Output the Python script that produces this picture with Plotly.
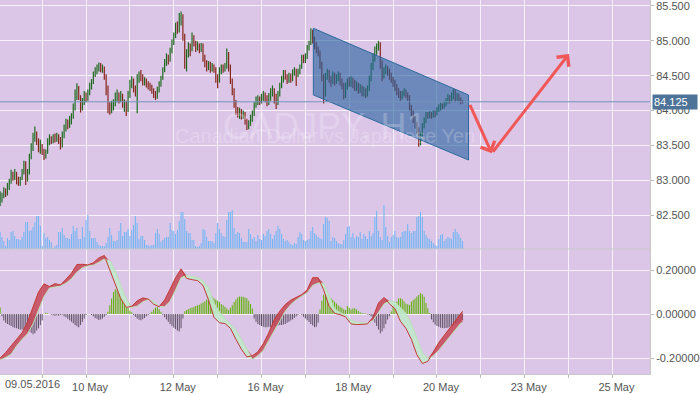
import plotly.graph_objects as go

# ---------------- axis labels ----------------
day_ticks = list(range(0, 14))
day_labels = ["", "10 May", "", "12 May", "", "16 May", "", "18 May", "", "20 May", "", "23 May", "", "25 May"]
first_day_label = "09.05.2016"
price_ticks = [82.5, 83.0, 83.5, 84.0, 84.5, 85.0, 85.5]
price_labels = ["82.500", "83.000", "83.500", "84.000", "84.500", "85.000", "85.500"]
macd_ticks = [-0.2, 0.0, 0.2]
macd_labels = ["-0.20000", "0.00000", "0.20000"]
title_text = "CADJPY, H1"
subtitle_text = "Canadian Dollar vs Japanese Yen"
last_price = 84.125

BARS_BEFORE_FIRST_DAY = 23
BARS_PER_DAY = 24
first_open = 82.66

# ---------------- H1 price bars (one line per trading day) ----------------
bar_close = [
    82.70, 82.78, 82.85, 82.80, 82.90, 82.98, 83.08, 83.05, 83.12, 83.00, 82.96, 83.02, 83.12, 83.25, 83.00, 83.10, 83.32, 83.45, 83.62, 83.72, 83.55, 83.48, 83.52,
    83.42, 83.35, 83.40, 83.55, 83.60, 83.56, 83.62, 83.58, 83.63, 83.57, 83.48, 83.65, 83.75, 83.82, 83.78, 83.86, 83.92, 84.05, 84.22, 84.32, 84.20, 84.05, 84.12, 84.22,
    84.16, 84.26, 84.34, 84.40, 84.52, 84.58, 84.62, 84.66, 84.60, 84.62, 84.50, 84.32, 84.05, 84.00, 84.08, 84.12, 84.20, 84.24, 84.16, 84.22, 84.08, 84.12, 83.99, 84.22,
    84.38, 84.45, 84.32, 84.28, 84.46, 84.52, 84.48, 84.40, 84.44, 84.38, 84.36, 84.33, 84.30, 84.24, 84.20, 84.30, 84.38, 84.46, 84.58, 84.70, 84.78, 84.72, 84.86, 84.98,
    85.08, 85.22, 85.16, 85.32, 85.36, 85.08, 84.72, 84.82, 84.92, 84.88, 85.05, 84.98, 84.90, 84.94, 84.88, 84.92, 84.76, 84.68, 84.62, 84.66, 84.60, 84.64, 84.58, 84.45,
    84.42, 84.58, 84.62, 84.60, 84.65, 84.82, 84.62, 84.45, 84.30, 84.12, 84.02, 83.95, 84.00, 83.92, 83.96, 83.84, 83.76, 83.82, 83.90, 83.96, 84.08, 84.15, 84.18, 84.14,
    84.20, 84.24, 84.18, 84.12, 84.20, 84.28, 84.30, 84.20, 84.12, 84.24, 84.36, 84.46, 84.54, 84.48, 84.44, 84.50, 84.45, 84.55, 84.58, 84.52, 84.56, 84.62, 84.76, 84.72,
    84.78, 84.90, 84.96, 85.14, 85.02, 84.95, 84.88, 84.84, 84.66, 84.50, 84.25, 84.48, 84.55, 84.46, 84.40, 84.50, 84.42, 84.47, 84.52, 84.42, 84.36, 84.22, 84.36, 84.42,
    84.38, 84.44, 84.40, 84.34, 84.38, 84.30, 84.34, 84.26, 84.30, 84.24, 84.30, 84.45, 84.62, 84.76, 84.88, 84.92, 84.96, 84.70, 84.50, 84.58, 84.62, 84.55, 84.50, 84.46,
    84.40, 84.34, 84.28, 84.24, 84.20, 84.24, 84.28, 84.24, 84.20, 84.05, 83.98, 83.88, 83.80, 83.72, 83.58, 83.66, 83.78, 83.86, 83.94, 83.92, 83.96, 83.93, 83.97, 83.95,
    84.02, 84.05, 84.08, 84.06, 84.10, 84.14, 84.20, 84.15, 84.22, 84.27, 84.18, 84.22, 84.16, 84.13, 84.125,
]
bar_high = [
    82.84, 82.82, 82.90, 82.88, 82.96, 83.02, 83.15, 83.12, 83.16, 83.12, 83.05, 83.05, 83.16, 83.28, 83.27, 83.16, 83.38, 83.53, 83.68, 83.77, 83.70, 83.60, 83.58,
    83.52, 83.45, 83.44, 83.60, 83.66, 83.63, 83.66, 83.67, 83.68, 83.66, 83.62, 83.70, 83.80, 83.88, 83.87, 83.92, 83.96, 84.10, 84.30, 84.39, 84.35, 84.22, 84.18, 84.28,
    84.26, 84.30, 84.40, 84.45, 84.56, 84.62, 84.66, 84.69, 84.68, 84.66, 84.63, 84.52, 84.36, 84.12, 84.14, 84.16, 84.26, 84.30, 84.26, 84.28, 84.24, 84.16, 84.14, 84.28,
    84.44, 84.49, 84.46, 84.36, 84.52, 84.56, 84.58, 84.52, 84.48, 84.46, 84.42, 84.40, 84.37, 84.32, 84.28, 84.34, 84.42, 84.50, 84.62, 84.74, 84.82, 84.80, 84.90, 85.02,
    85.12, 85.26, 85.28, 85.40, 85.42, 85.38, 85.10, 84.88, 84.98, 84.96, 85.12, 85.08, 85.00, 84.99, 84.96, 84.97, 84.96, 84.80, 84.72, 84.71, 84.70, 84.68, 84.66, 84.62,
    84.52, 84.62, 84.66, 84.66, 84.68, 84.89, 84.84, 84.66, 84.46, 84.32, 84.15, 84.05, 84.04, 84.02, 84.00, 83.98, 83.88, 83.86, 83.94, 84.00, 84.12, 84.20, 84.22, 84.20,
    84.24, 84.28, 84.26, 84.22, 84.25, 84.32, 84.36, 84.32, 84.24, 84.28, 84.40, 84.50, 84.58, 84.58, 84.52, 84.54, 84.53, 84.59, 84.62, 84.60, 84.60, 84.66, 84.80, 84.80,
    84.82, 84.94, 85.00, 85.18, 85.16, 85.06, 84.98, 84.92, 84.86, 84.70, 84.52, 84.54, 84.60, 84.58, 84.50, 84.56, 84.54, 84.52, 84.56, 84.54, 84.46, 84.40, 84.40, 84.46,
    84.48, 84.49, 84.47, 84.44, 84.42, 84.40, 84.38, 84.36, 84.34, 84.32, 84.36, 84.50, 84.68, 84.82, 84.92, 84.96, 85.00, 84.98, 84.72, 84.62, 84.66, 84.64, 84.60, 84.54,
    84.48, 84.44, 84.38, 84.32, 84.28, 84.28, 84.32, 84.30, 84.26, 84.22, 84.08, 84.00, 83.92, 83.84, 83.76, 83.70, 83.82, 83.90, 83.98, 83.98, 83.99, 83.98, 84.00, 84.00,
    84.05, 84.09, 84.11, 84.10, 84.13, 84.18, 84.24, 84.22, 84.26, 84.31, 84.30, 84.25, 84.24, 84.19, 84.15,
]
bar_low = [
    82.63, 82.68, 82.74, 82.76, 82.78, 82.86, 82.95, 82.99, 83.00, 82.94, 82.92, 82.92, 83.00, 83.08, 82.93, 82.98, 83.08, 83.30, 83.42, 83.55, 83.50, 83.40, 83.38,
    83.36, 83.29, 83.31, 83.38, 83.50, 83.52, 83.53, 83.54, 83.55, 83.52, 83.44, 83.47, 83.60, 83.70, 83.73, 83.75, 83.80, 83.88, 84.00, 84.15, 84.15, 83.97, 84.00, 84.08,
    84.12, 84.14, 84.22, 84.30, 84.38, 84.48, 84.52, 84.56, 84.55, 84.54, 84.44, 84.22, 83.96, 83.94, 83.96, 84.00, 84.06, 84.12, 84.10, 84.12, 84.04, 83.98, 83.92, 83.98,
    84.18, 84.32, 84.26, 84.20, 83.96, 84.40, 84.42, 84.36, 84.36, 84.33, 84.30, 84.28, 84.24, 84.18, 84.15, 84.17, 84.26, 84.34, 84.44, 84.55, 84.64, 84.66, 84.70, 84.82,
    84.94, 85.04, 85.10, 85.12, 85.22, 85.00, 84.60, 84.56, 84.76, 84.78, 84.85, 84.92, 84.84, 84.86, 84.82, 84.84, 84.70, 84.62, 84.56, 84.58, 84.54, 84.56, 84.54, 84.40,
    84.32, 84.40, 84.52, 84.54, 84.56, 84.60, 84.56, 84.38, 84.22, 84.04, 83.94, 83.90, 83.88, 83.87, 83.88, 83.80, 83.72, 83.73, 83.78, 83.84, 83.92, 84.04, 84.08, 84.08,
    84.10, 84.14, 84.12, 84.06, 84.08, 84.14, 84.20, 84.10, 84.02, 84.08, 84.20, 84.32, 84.40, 84.44, 84.38, 84.40, 84.40, 84.42, 84.50, 84.35, 84.48, 84.52, 84.60, 84.68,
    84.68, 84.74, 84.86, 84.94, 84.96, 84.88, 84.82, 84.78, 84.60, 84.42, 84.10, 84.20, 84.44, 84.40, 84.34, 84.38, 84.36, 84.38, 84.42, 84.36, 84.30, 84.16, 84.18, 84.30,
    84.34, 84.34, 84.32, 84.28, 84.28, 84.24, 84.25, 84.20, 84.20, 84.18, 84.20, 84.28, 84.42, 84.58, 84.70, 84.80, 84.86, 84.60, 84.42, 84.46, 84.52, 84.50, 84.44, 84.40,
    84.34, 84.28, 84.22, 84.18, 84.14, 84.16, 84.20, 84.18, 84.14, 84.00, 83.92, 83.82, 83.74, 83.66, 83.48, 83.50, 83.62, 83.74, 83.82, 83.88, 83.89, 83.88, 83.90, 83.90,
    83.93, 83.98, 84.00, 84.02, 84.03, 84.06, 84.10, 84.10, 84.12, 84.16, 84.12, 84.14, 84.12, 84.09, 84.10,
]
tick_volume = [
    1700, 1200, 800, 300, 1100, 900, 1700, 1800, 1300, 1000, 1000, 900, 1200, 1700, 2700, 2700, 1800, 1900, 2200, 2700, 3300, 3300, 2300,
    300, 1600, 1100, 1200, 900, 700, 100, 300, 400, 1700, 1700, 2100, 1400, 1100, 1100, 1000, 1500, 2300, 1800, 2100, 1000, 1000, 2200, 1200,
    2900, 3400, 1800, 1100, 1100, 1100, 700, 400, 300, 300, 300, 600, 1200, 2100, 1400, 800, 800, 900, 1800, 2600, 1300, 1700, 1700, 2000,
    1300, 1900, 2400, 3300, 2600, 1000, 1300, 1300, 900, 400, 400, 300, 400, 400, 1600, 2000, 1500, 700, 900, 1100, 1200, 1200, 2600, 1900,
    1800, 1500, 1900, 2800, 3700, 3700, 3000, 1800, 1600, 1600, 900, 900, 300, 200, 300, 600, 2000, 1900, 1200, 800, 800, 800, 600, 1600,
    2600, 2000, 1600, 1300, 1200, 2900, 3700, 3700, 3900, 2100, 1500, 1700, 1600, 1100, 700, 700, 700, 2000, 1500, 1000, 1200, 800, 1400, 1000,
    900, 1500, 1300, 1800, 2000, 1500, 1000, 1400, 1800, 2300, 2000, 1500, 1000, 800, 900, 700, 500, 400, 600, 500, 1200, 1700, 1500, 900,
    800, 900, 1000, 1800, 2200, 1600, 1400, 1200, 1100, 1000, 2500, 3200, 3100, 2800, 800, 1200, 1100, 800, 600, 500, 500, 900, 1500, 2200,
    2300, 1200, 1600, 1100, 1300, 1200, 1700, 1000, 1500, 1300, 1000, 1800, 1300, 1600, 3200, 3800, 1800, 1200, 900, 4400, 2200, 1300, 700, 1200,
    1400, 1800, 1200, 1100, 1200, 1700, 1800, 1800, 2500, 1800, 1600, 1800, 1800, 3200, 3300, 3700, 3200, 1800, 1400, 1100, 1000, 800, 600, 400,
    300, 1000, 1400, 1500, 800, 1000, 1200, 1100, 1000, 1700, 2000, 1700, 1500, 1100, 800,
]
macd_hist = [
    0.03, -0.01, -0.03, -0.04, -0.045, -0.05, -0.055, -0.06, -0.062, -0.065, -0.068, -0.07, -0.07, -0.072, -0.075, -0.078, -0.08, -0.085, -0.092, -0.088, -0.075, -0.065, -0.05,
    -0.03, 0.0, 0.006, 0.002, 0.0, -0.003, -0.006, -0.008, -0.006, -0.008, -0.005, -0.003, -0.01, -0.015, -0.022, -0.028, -0.035, -0.042, -0.05, -0.056, -0.06, -0.05, -0.035, -0.02,
    -0.005, 0.0, 0.0, -0.004, -0.01, -0.018, -0.022, -0.027, -0.025, -0.02, -0.012, -0.004, 0.01, 0.04, 0.07, 0.1, 0.112, 0.108, 0.095, 0.085, 0.072, 0.058, 0.042, 0.028,
    0.015, 0.008, -0.005, -0.012, -0.02, -0.026, -0.028, -0.024, -0.018, -0.01, -0.004, 0.003, 0.01, 0.02, 0.03, 0.032, 0.022, 0.01, -0.005, -0.015, -0.025, -0.035, -0.045, -0.055,
    -0.062, -0.068, -0.075, -0.08, -0.065, -0.02, 0.012, 0.018, 0.022, 0.026, 0.028, 0.032, 0.036, 0.04, 0.042, 0.048, 0.052, 0.058, 0.066, 0.075, 0.08, 0.078, 0.072, 0.065,
    0.06, 0.055, 0.046, 0.04, 0.033, 0.025, 0.018, 0.028, 0.04, 0.055, 0.066, 0.075, 0.08, 0.078, 0.078, 0.075, 0.072, 0.06, 0.045, 0.025, -0.02, -0.035, -0.045, -0.05,
    -0.055, -0.058, -0.06, -0.06, -0.058, -0.06, -0.058, -0.055, -0.055, -0.052, -0.05, -0.05, -0.048, -0.045, -0.04, -0.035, -0.03, -0.025, -0.018, -0.01, -0.004, 0.0, -0.005, -0.012,
    -0.02, -0.028, -0.036, -0.045, -0.052, -0.06, -0.058, -0.04, 0.02, 0.06, 0.088, 0.094, 0.088, 0.08, 0.072, 0.064, 0.056, 0.048, 0.04, 0.033, 0.028, 0.022, 0.018, 0.036,
    0.028, 0.021, 0.025, 0.026, 0.02, 0.014, 0.008, 0.004, 0.003, 0.002, -0.002, -0.004, -0.01, -0.025, -0.04, -0.055, -0.07, -0.088, -0.08, -0.065, -0.045, -0.025, -0.01, 0.012,
    0.033, 0.045, 0.056, 0.071, 0.072, 0.067, 0.058, 0.048, 0.044, 0.041, 0.056, 0.064, 0.071, 0.08, 0.086, 0.094, 0.09, 0.079, 0.05, 0.026, 0.005, -0.025, -0.038, -0.048,
    -0.055, -0.058, -0.062, -0.064, -0.065, -0.064, -0.062, -0.058, -0.055, -0.05, -0.046, -0.042, -0.038, -0.032, -0.027,
]

# MACD lines, read every 3 bars (bar index listed)
macd_bar_index = list(range(0, 253, 3)) + [253]
macd_main = [
    -0.200, -0.175, -0.145, -0.115, -0.085, -0.035, 0.03, 0.10, 0.137, 0.125, 0.138, 0.132, 0.158, 0.185, 0.225, 0.226, 0.223, 0.233, 0.255, 0.266,
    0.20, 0.135, 0.07, 0.03, 0.035, 0.06, 0.073, 0.068, 0.045, 0.033, 0.064, 0.113, 0.165, 0.205, 0.162, 0.156, 0.152, 0.13, 0.065, -0.015,
    -0.04, -0.043, -0.065, -0.115, -0.16, -0.195, -0.19, -0.172, -0.135, -0.085, -0.025, 0.013, 0.043, 0.063, 0.076, 0.088, 0.11, 0.165, 0.165, 0.11,
    0.035, 0.003, -0.003, -0.013, -0.045, -0.048, -0.047, -0.045, -0.015, 0.05, 0.075, 0.046, 0.025, -0.033, -0.065, -0.115, -0.185, -0.225, -0.215, -0.172,
    -0.13, -0.097, -0.063, -0.03, 0.005, 0.012,
]
macd_signal = [
    -0.209, -0.198, -0.183, -0.145, -0.115, -0.09, -0.045, 0.02, 0.08, 0.118, 0.122, 0.127, 0.14, 0.16, 0.19, 0.21, 0.219, 0.222, 0.235, 0.25,
    0.242, 0.195, 0.13, 0.07, 0.03, 0.036, 0.055, 0.066, 0.058, 0.035, 0.033, 0.058, 0.11, 0.165, 0.175, 0.172, 0.165, 0.15, 0.12, 0.05,
    0.011, -0.022, -0.045, -0.072, -0.115, -0.16, -0.206, -0.19, -0.165, -0.12, -0.073, -0.032, 0.013, 0.043, 0.065, 0.08, 0.097, 0.13, 0.141, 0.14,
    0.08, 0.025, 0.006, -0.004, -0.028, -0.037, -0.039, -0.041, -0.03, 0.008, 0.045, 0.06, 0.055, 0.03, 0.003, -0.045, -0.115, -0.175, -0.202, -0.19,
    -0.165, -0.135, -0.1, -0.07, -0.042, -0.037,
]

# drawn objects (day units, price units)
channel_days = [6.182, 9.72]
channel_upper = [85.18, 84.223]
channel_lower = [84.223, 83.289]
arrow_days = [9.736, 10.25, 12.009]
arrow_prices = [84.103, 83.386, 84.811]

# ---------------- build ----------------
FONT = "Liberation Sans, Arial, sans-serif"
BG = "#dcc6e8"
GRID = "#f6f2f8"
LABEL = "#555555"

def day_of(i):
    return (i - BARS_BEFORE_FIRST_DAY) / BARS_PER_DAY

bar_x = [day_of(i) for i in range(len(bar_close))]
bar_open = [first_open] + bar_close[:-1]
macd_x = [day_of(i) for i in macd_bar_index]
upper_part = [max(m, s) for m, s in zip(macd_main, macd_signal)]
lower_part = [min(m, s) for m, s in zip(macd_main, macd_signal)]

thin_bar = 1.02 / 44  # about one pixel wide, in day units

fig = go.Figure()

fig.add_trace(go.Bar(x=bar_x, y=tick_volume, yaxis="y3", width=thin_bar,
                     marker=dict(color="rgba(108,180,244,0.99)", line=dict(width=0)), hoverinfo="skip"))
fig.add_trace(go.Ohlc(x=bar_x, open=bar_open, high=bar_high, low=bar_low, close=bar_close,
                      tickwidth=0, yaxis="y",
                      increasing=dict(line=dict(color="#1e6b1e", width=1.2)),
                      decreasing=dict(line=dict(color="#86261a", width=1.2)),
                      hoverinfo="skip"))
fig.add_trace(go.Bar(x=bar_x, y=macd_hist, yaxis="y2", width=thin_bar,
                     marker=dict(color=["rgba(93,176,0,0.99)" if v >= 0 else "rgba(96,82,102,0.99)" for v in macd_hist],
                                 line=dict(width=0)),
                     hoverinfo="skip"))
# red band where main above signal
fig.add_trace(go.Scatter(x=macd_x, y=macd_signal, yaxis="y2", mode="lines", line=dict(width=0), hoverinfo="skip"))
fig.add_trace(go.Scatter(x=macd_x, y=upper_part, yaxis="y2", mode="lines", line=dict(width=0),
                         fill="tonexty", fillcolor="rgba(196,70,86,0.85)", hoverinfo="skip"))
# green band where signal above main
fig.add_trace(go.Scatter(x=macd_x, y=macd_signal, yaxis="y2", mode="lines", line=dict(width=0), hoverinfo="skip"))
fig.add_trace(go.Scatter(x=macd_x, y=lower_part, yaxis="y2", mode="lines", line=dict(width=0),
                         fill="tonexty", fillcolor="rgba(192,232,204,0.9)", hoverinfo="skip"))
fig.add_trace(go.Scatter(x=macd_x, y=macd_signal, yaxis="y2", mode="lines",
                         line=dict(color="#b9e2b4", width=1), hoverinfo="skip"))
fig.add_trace(go.Scatter(x=macd_x, y=macd_main, yaxis="y2", mode="lines",
                         line=dict(color="#c23a34", width=1), hoverinfo="skip"))

split = 125 / 374

shapes = [
    dict(type="path", xref="x", yref="y", layer="above",
         path=f"M {channel_days[0]},{channel_upper[0]} L {channel_days[1]},{channel_upper[1]} "
              f"L {channel_days[1]},{channel_lower[1]} L {channel_days[0]},{channel_lower[0]} Z",
         fillcolor="rgba(40,100,160,0.62)", line=dict(color="#2c6a9c", width=1)),
    dict(type="line", xref="paper", yref="y", x0=0, x1=1, y0=last_price, y1=last_price,
         layer="above", line=dict(color="#7394bb", width=1)),
    dict(type="line", xref="paper", yref="paper", x0=0, x1=1, y0=split, y1=split,
         line=dict(color="#c8c8c8", width=1)),
]

annotations = [
    dict(text=title_text, xref="paper", yref="paper", x=325 / 652, y=1 - 104 / 374,
         showarrow=False, font=dict(family=FONT, size=36, color="rgba(255,255,255,0.22)")),
    dict(text=subtitle_text, xref="paper", yref="paper", x=326 / 652, y=1 - 136 / 374,
         showarrow=False, font=dict(family=FONT, size=20, color="rgba(255,255,255,0.22)")),
    dict(text="", x=arrow_days[1], y=arrow_prices[1], ax=arrow_days[0], ay=arrow_prices[0],
         xref="x", yref="y", axref="x", ayref="y", showarrow=True, arrowhead=4,
         arrowsize=1, arrowwidth=3, arrowcolor="#f05858"),
    dict(text="", x=arrow_days[2], y=arrow_prices[2], ax=arrow_days[1], ay=arrow_prices[1],
         xref="x", yref="y", axref="x", ayref="y", showarrow=True, arrowhead=4,
         arrowsize=1, arrowwidth=3, arrowcolor="#f05858"),
    dict(text=f"{last_price:.3f}", xref="paper", yref="y", x=1, y=last_price, xanchor="left",
         yanchor="middle", xshift=2, showarrow=False, bgcolor="#4d7399", width=42, height=12,
         borderpad=1, align="left", font=dict(family=FONT, size=11, color="white")),
    dict(text=first_day_label, xref="paper", yref="paper", x=2.7 / 652, y=-10 / 374,
         xanchor="left", yanchor="middle", showarrow=False,
         font=dict(family=FONT, size=11, color=LABEL)),
]

fig.update_layout(
    width=700, height=394, margin=dict(l=0, r=48, t=0, b=20),
    paper_bgcolor="white", plot_bgcolor=BG, showlegend=False, hovermode=False,
    barmode="overlay", font=dict(family=FONT, size=11, color=LABEL),
    shapes=shapes, annotations=annotations,
    xaxis=dict(range=[-42.3 / 44, (652 - 42.3) / 44], anchor="y2", tickmode="array",
               tickvals=day_ticks, ticktext=day_labels, ticklabelshift=4,
               showgrid=True, gridcolor=GRID, gridwidth=1, zeroline=False,
               ticks="outside", ticklen=3, tickcolor="#bbbbbb",
               showline=True, linecolor="#c8c8c8", rangeslider=dict(visible=False),
               ticklabeloverflow="allow",
               tickfont=dict(family=FONT, size=11, color=LABEL)),
    yaxis=dict(domain=[split, 1], range=[82.012, 85.586], side="right", anchor="x",
               tickmode="array", tickvals=price_ticks, ticktext=price_labels,
               showgrid=True, gridcolor=GRID, gridwidth=1, zeroline=False,
               ticks="outside", ticklen=3, tickcolor="#bbbbbb",
               showline=True, linecolor="#c8c8c8", ticklabeloverflow="allow",
               tickfont=dict(family=FONT, size=11, color=LABEL)),
    yaxis2=dict(domain=[0, split], range=[-0.2727, 0.2955], side="right", anchor="x",
                tickmode="array", tickvals=macd_ticks, ticktext=macd_labels,
                showgrid=True, gridcolor=GRID, gridwidth=1, zeroline=False,
                ticks="outside", ticklen=3, tickcolor="#bbbbbb",
                showline=True, linecolor="#c8c8c8", ticklabeloverflow="allow",
                tickfont=dict(family=FONT, size=11, color=LABEL)),
    yaxis3=dict(overlaying="y", range=[0, 24900], visible=False),
)

fig.write_html("out.html", config={"displayModeBar": False},
               post_script="document.body.style.margin='0';document.body.style.overflow='hidden';")
